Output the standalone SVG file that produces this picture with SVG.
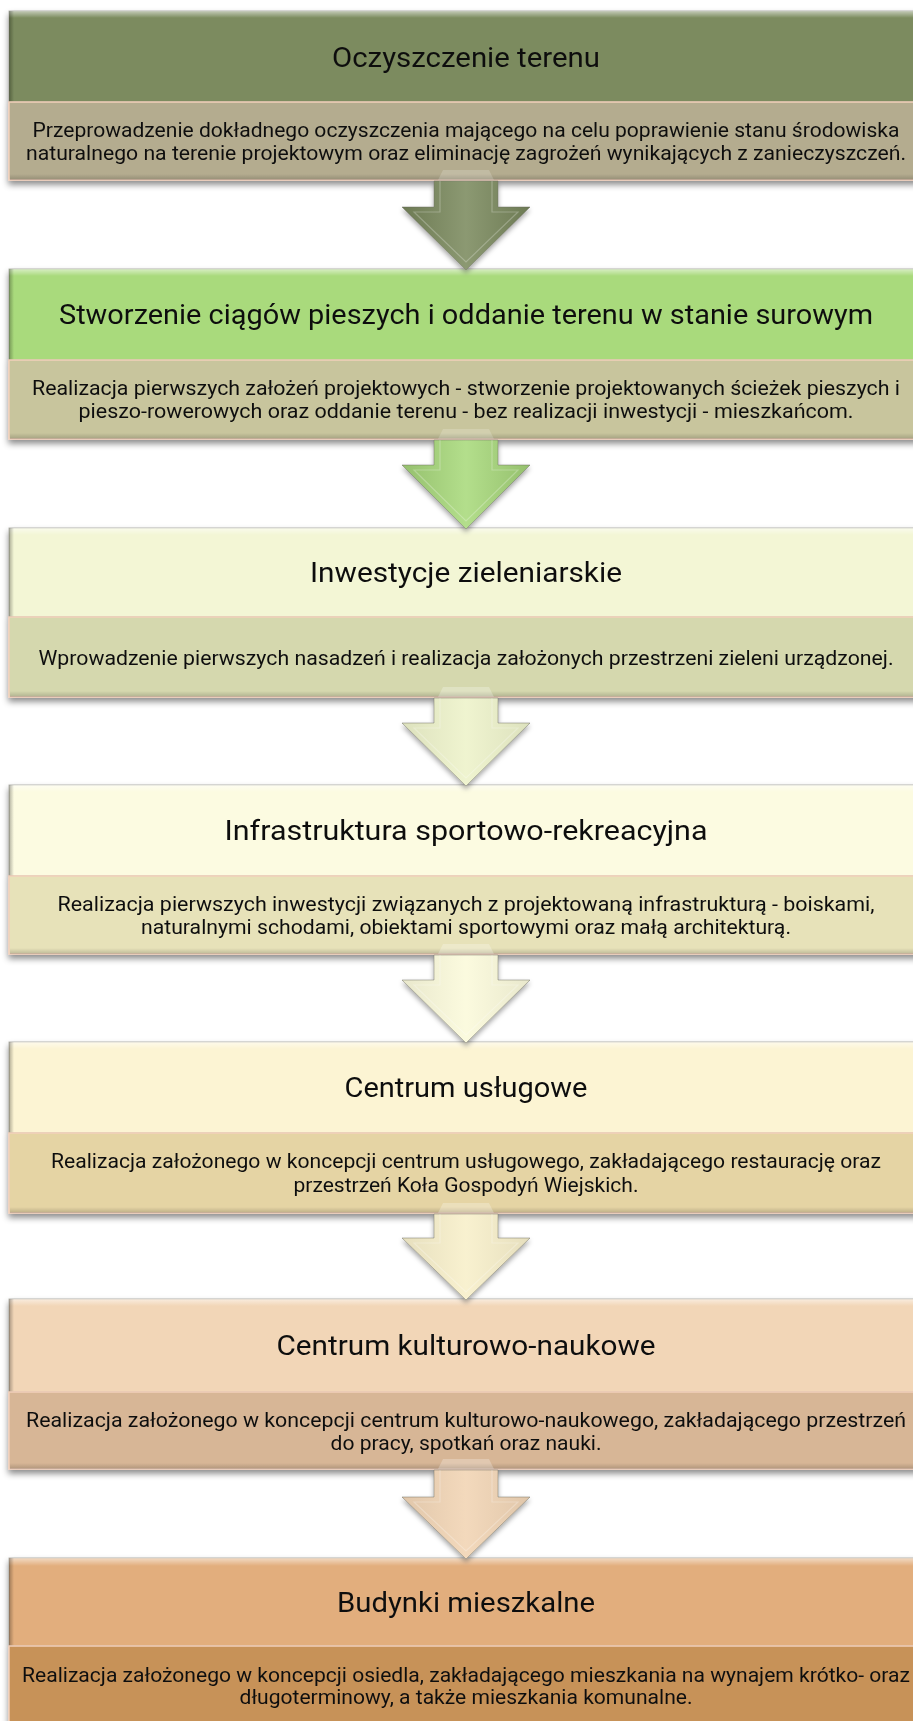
<svg xmlns="http://www.w3.org/2000/svg" width="913" height="1721" viewBox="0 0 913 1721">
<defs>
<style>
.t{font-family:Roboto,"Liberation Sans",sans-serif;font-size:27px;font-weight:400;fill:#111;text-anchor:middle}
.s{font-family:Roboto,"Liberation Sans",sans-serif;font-size:21px;font-weight:400;fill:#111;text-anchor:middle}
.sub{stroke:#f2cfbb;stroke-width:1.5}
.hd{stroke:#8a8a80;stroke-width:1;stroke-opacity:.6}
.arw{stroke:#6d6d60;stroke-opacity:.45;stroke-width:1}
.inner{fill:none;stroke:#ffffff;stroke-opacity:.25;stroke-width:1.2}
</style>
<linearGradient id="hiTop" x1="0" y1="0" x2="0" y2="1"><stop offset="0" stop-color="#fff" stop-opacity=".55"/><stop offset="1" stop-color="#fff" stop-opacity="0"/></linearGradient>
<linearGradient id="shLeft" x1="0" y1="0" x2="1" y2="0"><stop offset="0" stop-color="#000" stop-opacity=".3"/><stop offset="1" stop-color="#000" stop-opacity="0"/></linearGradient>
<linearGradient id="shBot" x1="0" y1="0" x2="0" y2="1"><stop offset="0" stop-color="#000" stop-opacity="0"/><stop offset="1" stop-color="#000" stop-opacity=".18"/></linearGradient>
<linearGradient id="arrShade" x1="0" y1="0" x2="1" y2="0"><stop offset="0" stop-color="#000" stop-opacity=".12"/><stop offset=".5" stop-color="#fff" stop-opacity=".12"/><stop offset="1" stop-color="#000" stop-opacity=".12"/></linearGradient>
<filter id="drop" x="-5%" y="-5%" width="110%" height="120%"><feDropShadow dx="0" dy="4" stdDeviation="3" flood-color="#000" flood-opacity=".45"/></filter>
<filter id="dropA" x="-20%" y="-20%" width="140%" height="140%"><feDropShadow dx="0" dy="3" stdDeviation="2.5" flood-color="#000" flood-opacity=".35"/></filter>
</defs>
<rect width="913" height="1721" fill="#fff"/>

<g id="node1" filter="url(#drop)">
<rect x="9" y="11" width="914" height="91" fill="#7b8b5e" class="hd"/>
<rect x="9" y="11" width="914" height="7" fill="url(#hiTop)"/>
<rect x="9" y="11" width="5" height="91" fill="url(#shLeft)"/>
<rect x="9" y="102" width="914" height="78" fill="#b4ac8f" class="sub"/>
<rect x="10" y="174" width="913" height="6" fill="url(#shBot)"/>
<text class="t" x="466" y="67" textLength="268" lengthAdjust="spacingAndGlyphs">Oczyszczenie terenu</text>
<text class="s" x="466" y="137" textLength="867" lengthAdjust="spacingAndGlyphs">Przeprowadzenie dokładnego oczyszczenia mającego na celu poprawienie stanu środowiska</text>
<text class="s" x="466" y="160" textLength="880" lengthAdjust="spacingAndGlyphs">naturalnego na terenie projektowym oraz eliminację zagrożeń wynikających z zanieczyszczeń.</text>
</g>

<g id="node2" filter="url(#drop)">
<rect x="9" y="269" width="914" height="91" fill="#a9da7c" class="hd"/>
<rect x="9" y="269" width="914" height="7" fill="url(#hiTop)"/>
<rect x="9" y="269" width="5" height="91" fill="url(#shLeft)"/>
<rect x="9" y="360" width="914" height="79" fill="#c8c59d" class="sub"/>
<rect x="10" y="433" width="913" height="6" fill="url(#shBot)"/>
<text class="t" x="466" y="324" textLength="814" lengthAdjust="spacingAndGlyphs">Stworzenie ciągów pieszych i oddanie terenu w stanie surowym</text>
<text class="s" x="466" y="395" textLength="868" lengthAdjust="spacingAndGlyphs">Realizacja pierwszych założeń projektowych  - stworzenie projektowanych ścieżek pieszych i</text>
<text class="s" x="466" y="418" textLength="775" lengthAdjust="spacingAndGlyphs">pieszo-rowerowych oraz oddanie terenu - bez realizacji inwestycji - mieszkańcom.</text>
</g>

<g id="node3" filter="url(#drop)">
<rect x="9" y="528" width="914" height="89" fill="#f3f6d5" class="hd"/>
<rect x="9" y="528" width="914" height="7" fill="url(#hiTop)"/>
<rect x="9" y="528" width="5" height="89" fill="url(#shLeft)"/>
<rect x="9" y="617" width="914" height="80" fill="#d5d8ae" class="sub"/>
<rect x="10" y="691" width="913" height="6" fill="url(#shBot)"/>
<text class="t" x="466" y="582" textLength="312" lengthAdjust="spacingAndGlyphs">Inwestycje zieleniarskie</text>
<text class="s" x="466" y="665" textLength="855" lengthAdjust="spacingAndGlyphs">Wprowadzenie pierwszych nasadzeń i realizacja założonych przestrzeni zieleni urządzonej.</text>
</g>

<g id="node4" filter="url(#drop)">
<rect x="9" y="785" width="914" height="91" fill="#fcfbe1" class="hd"/>
<rect x="9" y="785" width="914" height="7" fill="url(#hiTop)"/>
<rect x="9" y="785" width="5" height="91" fill="url(#shLeft)"/>
<rect x="9" y="876" width="914" height="78" fill="#e7e2b9" class="sub"/>
<rect x="10" y="948" width="913" height="6" fill="url(#shBot)"/>
<text class="t" x="466" y="840" textLength="483" lengthAdjust="spacingAndGlyphs">Infrastruktura sportowo-rekreacyjna</text>
<text class="s" x="466" y="911" textLength="817" lengthAdjust="spacingAndGlyphs">Realizacja pierwszych inwestycji związanych z projektowaną infrastrukturą - boiskami,</text>
<text class="s" x="466" y="934" textLength="650" lengthAdjust="spacingAndGlyphs">naturalnymi schodami, obiektami sportowymi oraz małą architekturą.</text>
</g>

<g id="node5" filter="url(#drop)">
<rect x="9" y="1042" width="914" height="91" fill="#fcf4d3" class="hd"/>
<rect x="9" y="1042" width="914" height="7" fill="url(#hiTop)"/>
<rect x="9" y="1042" width="5" height="91" fill="url(#shLeft)"/>
<rect x="9" y="1133" width="914" height="80" fill="#e5d4a4" class="sub"/>
<rect x="10" y="1207" width="913" height="6" fill="url(#shBot)"/>
<text class="t" x="466" y="1097" textLength="243" lengthAdjust="spacingAndGlyphs">Centrum usługowe</text>
<text class="s" x="466" y="1168" textLength="830" lengthAdjust="spacingAndGlyphs">Realizacja założonego w koncepcji centrum usługowego, zakładającego restaurację oraz</text>
<text class="s" x="466" y="1192" textLength="345" lengthAdjust="spacingAndGlyphs">przestrzeń Koła Gospodyń Wiejskich.</text>
</g>

<g id="node6" filter="url(#drop)">
<rect x="9" y="1299" width="914" height="93" fill="#f2d6b7" class="hd"/>
<rect x="9" y="1299" width="914" height="7" fill="url(#hiTop)"/>
<rect x="9" y="1299" width="5" height="93" fill="url(#shLeft)"/>
<rect x="9" y="1392" width="914" height="77" fill="#d7b696" class="sub"/>
<rect x="10" y="1463" width="913" height="6" fill="url(#shBot)"/>
<text class="t" x="466" y="1355" textLength="379" lengthAdjust="spacingAndGlyphs">Centrum kulturowo-naukowe</text>
<text class="s" x="466" y="1427" textLength="880" lengthAdjust="spacingAndGlyphs">Realizacja założonego w koncepcji centrum kulturowo-naukowego, zakładającego przestrzeń</text>
<text class="s" x="466" y="1450" textLength="271" lengthAdjust="spacingAndGlyphs">do pracy, spotkań oraz nauki.</text>
</g>

<g id="node7" filter="url(#drop)">
<rect x="9" y="1558" width="914" height="88" fill="#e2ae7d" class="hd"/>
<rect x="9" y="1558" width="914" height="8" fill="url(#hiTop)"/>
<rect x="9" y="1558" width="5" height="88" fill="url(#shLeft)"/>
<rect x="9" y="1646" width="914" height="80" fill="#c79258" class="sub"/>
<text class="t" x="466" y="1612" textLength="258" lengthAdjust="spacingAndGlyphs">Budynki mieszkalne</text>
<text class="s" x="466" y="1682" textLength="888" lengthAdjust="spacingAndGlyphs">Realizacja założonego w koncepcji osiedla, zakładającego mieszkania na wynajem krótko- oraz</text>
<text class="s" x="466" y="1704" textLength="453" lengthAdjust="spacingAndGlyphs">długoterminowy, a także mieszkania komunalne.</text>
</g>

<g id="connectors">
<g id="arrow1">
<polygon points="438,180 443,170 489,170 494,180" fill="#fff" fill-opacity=".18"/>
<polygon filter="url(#dropA)" class="arw" points="434,181 498,181 498,207 530,207 466,270 402,207 434,207" fill="#7b8b5e"/>
<polygon points="434,181 498,181 498,207 530,207 466,270 402,207 434,207" fill="url(#arrShade)"/>
<polyline class="inner" points="440,181 440,212 414,212 466,262 518,212 492,212 492,181"/>
</g>
<g id="arrow2">
<polygon points="438,439 443,429 489,429 494,439" fill="#fff" fill-opacity=".18"/>
<polygon filter="url(#dropA)" class="arw" points="434,440 498,440 498,465 530,465 466,529 402,465 434,465" fill="#a9da7c"/>
<polygon points="434,440 498,440 498,465 530,465 466,529 402,465 434,465" fill="url(#arrShade)"/>
<polyline class="inner" points="440,440 440,470 414,470 466,521 518,470 492,470 492,440"/>
</g>
<g id="arrow3">
<polygon points="438,697 443,687 489,687 494,697" fill="#fff" fill-opacity=".25"/>
<polygon filter="url(#dropA)" class="arw" points="434,698 498,698 498,723 530,723 466,786 402,723 434,723" fill="#eef3cc"/>
<polygon points="434,698 498,698 498,723 530,723 466,786 402,723 434,723" fill="url(#arrShade)" opacity=".6"/>
<polyline class="inner" points="440,698 440,728 414,728 466,778 518,728 492,728 492,698"/>
</g>
<g id="arrow4">
<polygon points="438,954 443,944 489,944 494,954" fill="#fff" fill-opacity=".25"/>
<polygon filter="url(#dropA)" class="arw" points="434,955 498,955 498,980 530,980 466,1043 402,980 434,980" fill="#fbfadc"/>
<polygon points="434,955 498,955 498,980 530,980 466,1043 402,980 434,980" fill="url(#arrShade)" opacity=".6"/>
<polyline class="inner" points="440,955 440,985 414,985 466,1035 518,985 492,985 492,955"/>
</g>
<g id="arrow5">
<polygon points="438,1213 443,1203 489,1203 494,1213" fill="#fff" fill-opacity=".25"/>
<polygon filter="url(#dropA)" class="arw" points="434,1214 498,1214 498,1238 530,1238 466,1300 402,1238 434,1238" fill="#f8f0cc"/>
<polygon points="434,1214 498,1214 498,1238 530,1238 466,1300 402,1238 434,1238" fill="url(#arrShade)" opacity=".6"/>
<polyline class="inner" points="440,1214 440,1243 414,1243 466,1292 518,1243 492,1243 492,1214"/>
</g>
<g id="arrow6">
<polygon points="438,1469 443,1459 489,1459 494,1469" fill="#fff" fill-opacity=".25"/>
<polygon filter="url(#dropA)" class="arw" points="434,1470 498,1470 498,1497 530,1497 466,1559 402,1497 434,1497" fill="#f2d6b7"/>
<polygon points="434,1470 498,1470 498,1497 530,1497 466,1559 402,1497 434,1497" fill="url(#arrShade)" opacity=".6"/>
<polyline class="inner" points="440,1470 440,1502 414,1502 466,1551 518,1502 492,1502 492,1470"/>
</g>
</g>
</svg>
